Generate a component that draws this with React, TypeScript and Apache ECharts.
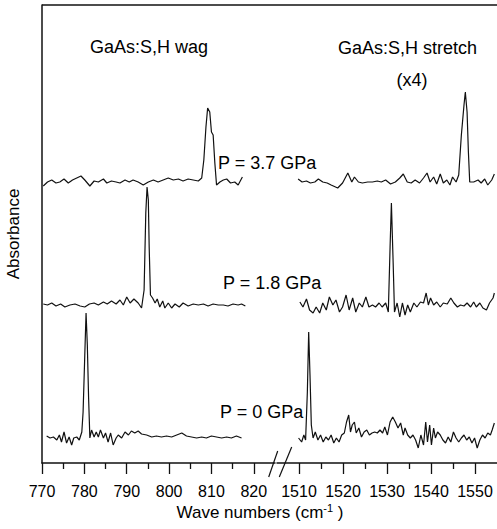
import React, { useEffect, useRef } from "react";
import * as echarts from "echarts";

const FONT = "'Liberation Sans', Arial, Helvetica, sans-serif";

// Left segment (H wag) and right segment (H stretch, x4) of the broken wavenumber axis
const wagRange = [770, 825];
const stretchRange = [1505, 1555];
const wagMajorTicks = [770, 780, 790, 800, 810, 820];
const wagMinorTicks = [775, 785, 795, 805, 815];
const stretchMajorTicks = [1510, 1520, 1530, 1540, 1550];
const stretchMinorTicks = [1515, 1525, 1535, 1545];
const absRange = [0, 4.58];

// P = 3.7 GPa
const wag37: number[][] = [
  [770.3, 2.77], [771.3, 2.81], [772.3, 2.83], [773.3, 2.8], [774.2, 2.81], [775.2, 2.84], [776.2, 2.8], [777.2, 2.83],
  [778.2, 2.85], [779.2, 2.87], [780.1, 2.83], [781.3, 2.77], [782.3, 2.82], [783.3, 2.81], [784.5, 2.84], [785.3, 2.8],
  [786.4, 2.82], [787.5, 2.81], [788.4, 2.8], [789.6, 2.83], [790.6, 2.81], [791.5, 2.83], [792.7, 2.81], [793.9, 2.78],
  [795.1, 2.81], [796.3, 2.83], [797.4, 2.81], [798.6, 2.83], [799.8, 2.85], [801.0, 2.83], [802.2, 2.84], [803.3, 2.82],
  [804.5, 2.84], [805.7, 2.83], [806.9, 2.82], [807.7, 2.85], [808.2, 3.03], [808.7, 3.36], [809.1, 3.55], [809.6, 3.51],
  [810.0, 3.31], [810.4, 3.28], [810.8, 3.0], [811.2, 2.78], [812.0, 2.81], [812.8, 2.83], [813.6, 2.84], [814.5, 2.8],
  [815.5, 2.81], [816.3, 2.78], [817.3, 2.86],
];
const stretch37: number[][] = [
  [1509.8, 2.84], [1510.7, 2.81], [1511.7, 2.82], [1512.6, 2.8], [1513.6, 2.81], [1514.4, 2.84], [1515.4, 2.81], [1516.4, 2.8],
  [1517.3, 2.78], [1518.8, 2.75], [1519.9, 2.8], [1521.1, 2.9], [1522.0, 2.81], [1522.6, 2.86], [1523.5, 2.81], [1524.4, 2.8],
  [1525.6, 2.81], [1526.7, 2.81], [1527.8, 2.82], [1528.7, 2.81], [1529.7, 2.83], [1530.8, 2.79], [1531.9, 2.81], [1532.9, 2.85],
  [1533.7, 2.89], [1534.6, 2.81], [1535.5, 2.8], [1536.4, 2.83], [1537.4, 2.8], [1538.3, 2.85], [1539.1, 2.9], [1539.8, 2.81],
  [1540.6, 2.86], [1541.3, 2.79], [1542.1, 2.89], [1542.8, 2.8], [1543.6, 2.83], [1544.3, 2.78], [1544.9, 2.86], [1545.7, 2.81],
  [1546.3, 2.88], [1546.9, 3.28], [1547.5, 3.58], [1547.8, 3.71], [1548.2, 3.51], [1548.5, 3.11], [1548.8, 2.81], [1549.7, 2.81],
  [1550.7, 2.83], [1551.4, 2.8], [1552.2, 2.84], [1552.9, 2.78], [1553.8, 2.83], [1554.4, 2.89],
];

// P = 1.8 GPa
const wag18: number[][] = [
  [770.3, 1.59], [771.3, 1.58], [772.3, 1.6], [773.3, 1.57], [774.4, 1.59], [775.4, 1.56], [776.6, 1.58], [777.8, 1.59],
  [779.0, 1.57], [780.1, 1.56], [781.2, 1.59], [782.3, 1.6], [783.3, 1.58], [784.5, 1.61], [785.4, 1.59], [786.4, 1.62],
  [787.5, 1.59], [788.4, 1.63], [789.2, 1.58], [790.0, 1.66], [790.8, 1.6], [791.7, 1.64], [792.7, 1.6], [793.5, 1.55],
  [794.1, 1.73], [794.5, 2.5], [794.8, 2.76], [795.1, 2.63], [795.3, 2.16], [795.6, 1.68], [796.1, 1.65], [796.7, 1.6],
  [797.2, 1.64], [797.8, 1.56], [798.5, 1.62], [799.0, 1.55], [799.8, 1.6], [800.6, 1.55], [801.4, 1.59], [802.4, 1.56],
  [803.3, 1.6], [804.5, 1.57], [805.7, 1.59], [806.9, 1.58], [808.1, 1.59], [809.2, 1.57], [810.4, 1.59], [811.6, 1.58],
  [812.8, 1.58], [813.9, 1.57], [815.1, 1.59], [816.3, 1.58], [817.1, 1.59], [818.0, 1.57],
];
const stretch18: number[][] = [
  [1510.2, 1.61], [1510.9, 1.56], [1511.7, 1.64], [1512.4, 1.53], [1513.2, 1.5], [1513.9, 1.56], [1514.7, 1.5], [1515.4, 1.6],
  [1516.2, 1.53], [1516.9, 1.66], [1517.7, 1.58], [1518.4, 1.63], [1519.2, 1.51], [1519.9, 1.56], [1520.7, 1.68], [1521.4, 1.53],
  [1522.2, 1.65], [1522.9, 1.51], [1523.7, 1.6], [1524.4, 1.56], [1525.2, 1.66], [1525.9, 1.56], [1526.7, 1.58], [1527.4, 1.56],
  [1528.2, 1.6], [1528.9, 1.56], [1529.7, 1.6], [1530.3, 1.51], [1530.7, 2.16], [1531.0, 2.6], [1531.4, 2.0], [1531.7, 1.51],
  [1532.3, 1.6], [1532.9, 1.46], [1533.5, 1.6], [1534.1, 1.48], [1534.7, 1.58], [1535.3, 1.51], [1536.1, 1.6], [1536.8, 1.56],
  [1537.6, 1.61], [1538.3, 1.6], [1538.9, 1.7], [1539.4, 1.58], [1539.9, 1.65], [1540.6, 1.58], [1541.3, 1.61], [1542.1, 1.56],
  [1542.8, 1.6], [1543.7, 1.59], [1544.5, 1.65], [1545.2, 1.6], [1546.0, 1.56], [1546.7, 1.58], [1547.5, 1.57], [1548.2, 1.6],
  [1549.0, 1.56], [1549.7, 1.61], [1550.3, 1.56], [1551.1, 1.6], [1551.8, 1.55], [1552.6, 1.53], [1553.3, 1.6], [1554.1, 1.65],
  [1554.4, 1.7],
];

// P = 0 GPa
const wag0: number[][] = [
  [771.1, 0.27], [771.9, 0.25], [772.7, 0.26], [773.5, 0.23], [774.1, 0.28], [774.6, 0.21], [775.2, 0.31], [775.8, 0.2],
  [776.4, 0.26], [777.0, 0.18], [777.5, 0.25], [778.2, 0.26], [778.8, 0.23], [779.4, 0.31], [779.7, 0.51], [780.1, 1.08],
  [780.4, 1.5], [780.7, 1.18], [781.0, 0.65], [781.3, 0.25], [781.7, 0.33], [782.3, 0.26], [782.8, 0.31], [783.3, 0.26],
  [783.8, 0.33], [784.5, 0.25], [785.0, 0.3], [785.6, 0.21], [786.2, 0.3], [786.8, 0.18], [787.5, 0.25], [788.0, 0.28],
  [788.8, 0.25], [789.6, 0.31], [790.4, 0.28], [791.1, 0.32], [791.9, 0.3], [792.7, 0.32], [793.5, 0.29], [794.7, 0.28],
  [795.9, 0.26], [797.0, 0.27], [798.2, 0.26], [799.4, 0.27], [800.6, 0.26], [801.8, 0.28], [803.0, 0.3], [804.1, 0.27],
  [805.3, 0.26], [806.5, 0.25], [807.7, 0.26], [808.8, 0.25], [810.0, 0.27], [811.2, 0.26], [812.4, 0.25], [813.6, 0.26],
  [814.7, 0.25], [815.9, 0.27], [817.1, 0.25],
];
const stretch0: number[][] = [
  [1509.9, 0.25], [1510.6, 0.21], [1511.1, 0.28], [1511.5, 0.23], [1511.9, 0.71], [1512.2, 1.31], [1512.5, 0.88], [1512.8, 0.38],
  [1513.2, 0.25], [1513.7, 0.31], [1514.3, 0.23], [1514.9, 0.28], [1515.5, 0.21], [1516.1, 0.26], [1516.7, 0.23], [1517.3, 0.28],
  [1517.9, 0.2], [1518.5, 0.25], [1519.1, 0.21], [1519.7, 0.28], [1520.3, 0.3], [1520.8, 0.41], [1521.3, 0.48], [1521.7, 0.31],
  [1522.1, 0.38], [1522.6, 0.41], [1523.0, 0.3], [1523.6, 0.35], [1524.2, 0.26], [1524.8, 0.31], [1525.4, 0.33], [1526.0, 0.28],
  [1526.6, 0.3], [1527.2, 0.31], [1527.8, 0.3], [1528.4, 0.33], [1529.0, 0.3], [1529.5, 0.36], [1530.1, 0.28], [1530.7, 0.41],
  [1531.3, 0.46], [1531.9, 0.41], [1532.5, 0.35], [1533.1, 0.4], [1533.7, 0.28], [1534.1, 0.35], [1534.7, 0.28], [1535.3, 0.25],
  [1535.9, 0.28], [1536.5, 0.23], [1537.1, 0.15], [1537.7, 0.28], [1538.3, 0.18], [1538.8, 0.41], [1539.2, 0.21], [1539.7, 0.38],
  [1540.1, 0.18], [1540.6, 0.35], [1541.0, 0.25], [1541.5, 0.31], [1542.1, 0.28], [1542.7, 0.23], [1543.3, 0.2], [1543.9, 0.26],
  [1544.5, 0.21], [1545.1, 0.31], [1545.7, 0.25], [1546.3, 0.21], [1546.9, 0.25], [1547.5, 0.28], [1548.1, 0.23], [1548.7, 0.26],
  [1549.3, 0.2], [1549.9, 0.25], [1550.5, 0.15], [1551.1, 0.23], [1551.7, 0.28], [1552.3, 0.25], [1552.9, 0.3], [1553.5, 0.28],
  [1553.9, 0.33], [1554.4, 0.4],
];

const annotations = [
  { text: "GaAs:S,H wag", x: 90, y: 47, align: "left" },
  { text: "GaAs:S,H stretch", x: 338, y: 48, align: "left" },
  { text: "(x4)", x: 412, y: 80, align: "center" },
  { text: "P = 3.7 GPa", x: 218, y: 163, align: "left" },
  { text: "P = 1.8 GPa", x: 223, y: 283, align: "left" },
  { text: "P = 0 GPa", x: 220, y: 412, align: "left" },
];

const INK = "#111";

function majorAxis(gridIndex: number, range: number[], ticks: number[]) {
  return {
    type: "value",
    gridIndex,
    position: "bottom",
    min: range[0],
    max: range[1],
    axisLine: { show: true, lineStyle: { color: INK, width: 1.5 } },
    axisTick: { show: true, customValues: ticks, length: 11, inside: false, lineStyle: { color: INK, width: 1.3 } },
    axisLabel: {
      show: true,
      customValues: ticks,
      margin: 20,
      color: "#000",
      fontSize: 16,
      fontFamily: FONT,
      formatter: (v: number) => String(v),
    },
    splitLine: { show: false },
  };
}

function minorAxis(gridIndex: number, range: number[], ticks: number[]) {
  return {
    type: "value",
    gridIndex,
    position: "bottom",
    min: range[0],
    max: range[1],
    axisLine: { show: false },
    axisTick: { show: true, customValues: ticks, length: 6, inside: false, lineStyle: { color: INK, width: 1.3 } },
    axisLabel: { show: false },
    splitLine: { show: false },
  };
}

function spectrum(data: number[][], xAxisIndex: number, yAxisIndex: number) {
  return {
    type: "line",
    data,
    xAxisIndex,
    yAxisIndex,
    showSymbol: false,
    symbol: "none",
    smooth: false,
    lineStyle: { color: INK, width: 1.2 },
    silent: true,
  };
}

export default function App() {
  const ref = useRef<HTMLDivElement>(null);
  useEffect(() => {
    document.body.style.margin = "0";
    if (!ref.current) return;
    const chart = echarts.init(ref.current, null, { renderer: "svg" });
    const option: any = {
      animation: false,
      backgroundColor: "#fff",
      grid: [
        { left: 42, top: 5, width: 233, height: 458, containLabel: false },
        { left: 277, top: 5, width: 222, height: 458, containLabel: false },
      ],
      xAxis: [
        majorAxis(0, wagRange, wagMajorTicks),
        minorAxis(0, wagRange, wagMinorTicks),
        majorAxis(1, stretchRange, stretchMajorTicks),
        minorAxis(1, stretchRange, stretchMinorTicks),
      ],
      yAxis: [
        {
          type: "value",
          gridIndex: 0,
          min: absRange[0],
          max: absRange[1],
          axisLine: { show: true, lineStyle: { color: INK, width: 1.5 } },
          axisTick: { show: false },
          axisLabel: { show: false },
          splitLine: { show: false },
          name: "Absorbance",
          nameLocation: "middle",
          nameRotate: 90,
          nameGap: 20,
          nameTextStyle: { color: "#000", fontSize: 17, fontFamily: FONT },
        },
        {
          type: "value",
          gridIndex: 1,
          min: absRange[0],
          max: absRange[1],
          show: false,
          splitLine: { show: false },
        },
      ],
      series: [
        spectrum(wag37, 0, 0),
        spectrum(wag18, 0, 0),
        spectrum(wag0, 0, 0),
        spectrum(stretch37, 2, 1),
        spectrum(stretch18, 2, 1),
        spectrum(stretch0, 2, 1),
      ],
      graphic: [
        {
          type: "line",
          shape: { x1: 42, y1: 5, x2: 497, y2: 5 },
          style: { stroke: INK, lineWidth: 1.5 },
          silent: true,
        },
        {
          type: "line",
          shape: { x1: 268.7, y1: 477, x2: 277.7, y2: 451 },
          style: { stroke: INK, lineWidth: 1.2 },
          silent: true,
        },
        {
          type: "line",
          shape: { x1: 279.3, y1: 477, x2: 291.7, y2: 447 },
          style: { stroke: INK, lineWidth: 1.2 },
          silent: true,
        },
        ...annotations.map((a) => ({
          type: "text",
          x: a.x,
          y: a.y,
          silent: true,
          style: {
            text: a.text,
            fill: "#000",
            fontSize: 18,
            fontFamily: FONT,
            textAlign: a.align,
            textVerticalAlign: "middle",
          },
        })),
        {
          type: "text",
          x: 260,
          y: 512,
          silent: true,
          style: {
            text: "Wave numbers (cm{sup|-1} )",
            fill: "#000",
            fontSize: 17,
            fontFamily: FONT,
            textAlign: "center",
            textVerticalAlign: "middle",
            rich: {
              sup: { fontSize: 11, fontFamily: FONT, fill: "#000", verticalAlign: "top", padding: [0, 0, 8, 0] },
            },
          },
        },
      ],
    };
    chart.setOption(option);
    return () => chart.dispose();
  }, []);
  return (
    <div
      ref={ref}
      style={{ position: "absolute", left: 0, top: 0, width: 497, height: 529, background: "#fff" }}
    />
  );
}
